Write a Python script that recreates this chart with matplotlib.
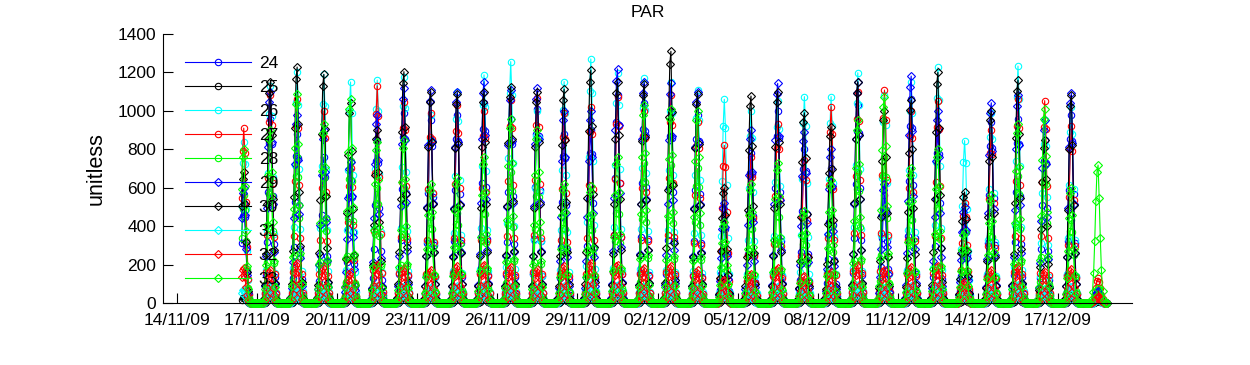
import numpy as np
import pandas as pd
import matplotlib as mpl
mpl.use('Agg')
import matplotlib.pyplot as plt
from matplotlib import dates

# hourly logging, first reading 16/11 10:00, last 18/12 20:00
START = '2009-11-16 10:00'
END = '2009-12-18 20:00'
DAY0 = '2009-11-16'

# daily maximum of each sensor (one value per day, 16/11 .. 18/12)
PEAK_24 = [520, 960, 880, 760, 640, 850, 990, 950, 980, 1040, 960, 1010, 880, 900, 1080, 1040, 1000,
           980, 450, 780, 1000, 800, 700, 1030, 560, 1060, 900, 430, 940, 960, 850, 980, 40]
PEAK_25 = [30, 45, 40, 42, 38, 35, 44, 40, 38, 42, 45, 40, 38, 44, 46, 40, 42,
           40, 25, 36, 40, 34, 35, 44, 36, 42, 45, 22, 38, 44, 36, 40, 10]
PEAK_26 = [840, 1130, 1200, 1190, 1150, 1160, 1178, 980, 1100, 1187, 1256, 1000, 1152, 1270, 1198, 1169, 1150,
           1108, 1060, 1000, 1050, 1074, 1074, 1198, 1080, 1150, 1226, 845, 990, 1233, 950, 1020, 50]
PEAK_27 = [910, 1080, 1060, 1000, 700, 1130, 1048, 990, 1030, 1000, 1056, 1065, 990, 1020, 1073, 1000, 1080,
           940, 820, 760, 930, 745, 1022, 1100, 1108, 1000, 1050, 520, 900, 1060, 1053, 920, 130]
PEAK_28 = [560, 650, 760, 650, 740, 600, 600, 450, 470, 540, 680, 640, 450, 440, 540, 730, 720,
           700, 300, 450, 520, 350, 460, 680, 760, 500, 570, 270, 400, 660, 720, 430, 80]
PEAK_29 = [600, 1100, 980, 900, 735, 980, 1118, 1108, 1100, 1152, 1110, 1120, 1000, 1000, 1218, 1150, 1143,
           1100, 520, 900, 1143, 890, 800, 1150, 620, 1181, 1000, 500, 1042, 1080, 950, 1094, 60]
PEAK_30 = [680, 1150, 1228, 1190, 1040, 900, 1204, 1100, 1090, 1100, 1126, 1100, 1113, 1212, 1150, 1140, 1310,
           1090, 600, 1077, 1100, 990, 917, 1152, 1000, 1056, 1200, 578, 1000, 1160, 850, 1080, 40]
PEAK_31 = [70, 90, 85, 80, 75, 90, 85, 80, 90, 95, 85, 80, 90, 100, 95, 85, 90,
           80, 60, 75, 85, 70, 75, 95, 80, 90, 95, 55, 80, 95, 75, 85, 20]
PEAK_32 = [180, 170, 210, 190, 160, 200, 180, 170, 190, 200, 185, 175, 190, 210, 200, 180, 190,
           170, 120, 150, 180, 140, 160, 200, 170, 185, 195, 110, 170, 190, 160, 175, 40]
PEAK_33 = [800, 900, 1090, 930, 1060, 840, 848, 620, 650, 760, 960, 900, 620, 610, 760, 1030, 1010,
           1000, 420, 620, 730, 480, 640, 950, 1074, 700, 800, 370, 560, 930, 1009, 600, 718]

# fraction of the daily maximum for each hour 0..23 (shape of the spikes)
PROFILE_CIRCLE = [0, 0, 0, 0, 0, 0, 0.01, 0.05, 0.15, 0.33, 0.6, 0.87,
                  1.0, 0.86, 0.58, 0.32, 0.14, 0.05, 0.01, 0, 0, 0, 0, 0]
PROFILE_DIAMOND = [0, 0, 0, 0, 0, 0, 0.02, 0.08, 0.22, 0.45, 0.74, 0.95,
                   1.0, 0.76, 0.47, 0.24, 0.09, 0.02, 0, 0, 0, 0, 0, 0]

SENSORS = ['24', '25', '26', '27', '28', '29', '30', '31', '32', '33']
PEAKS = [PEAK_24, PEAK_25, PEAK_26, PEAK_27, PEAK_28, PEAK_29, PEAK_30, PEAK_31, PEAK_32, PEAK_33]
COLORS = ['#0000ff', '#000000', '#00ffff', '#ff0000', '#00ff00'] * 2
MARKERS = ['o'] * 5 + ['D'] * 5


def gen_graph(outfile):
    times = pd.date_range(START, END, freq='h')
    day_idx = (times.normalize() - pd.Timestamp(DAY0)).days.values
    hours = times.hour.values

    plt.rcParams['font.family'] = ['Liberation Sans', 'DejaVu Sans']
    fig = plt.figure(figsize=(12.5, 3.65), dpi=100)
    ax = fig.add_axes([0.1304, 0.1699, 0.7752, 0.737])

    for i, name in enumerate(SENSORS):
        profile = PROFILE_CIRCLE if MARKERS[i] == 'o' else PROFILE_DIAMOND
        vals = np.array(PEAKS[i])[day_idx] * np.array(profile)[hours]
        ms = 4.6 if MARKERS[i] == 'o' else 3.6
        # matlab style: markers are not clipped at the axis
        ax.plot(times, vals, color=COLORS[i], lw=0.8, marker=MARKERS[i], ms=ms,
                mfc='none', mec=COLORS[i], mew=0.8, label=name, clip_on=False)

    ax.set_ylim(0, 1400)
    ax.set_yticks(np.arange(0, 1401, 200))
    ax.set_xlim(dates.date2num(pd.Timestamp('2009-11-13 11:25')),
                dates.date2num(pd.Timestamp('2009-12-19 18:30')))
    ax.set_xticks(pd.date_range('2009-11-14', '2009-12-17', freq='3D'))
    ax.xaxis.set_major_formatter(dates.DateFormatter('%d/%m/%y'))

    for s in ['top', 'right']:
        ax.spines[s].set_visible(False)
    ax.tick_params(direction='in', length=7.2, width=0.8, labelsize=12.5, pad=5)
    ax.tick_params(axis='x', pad=7)

    ax.set_title('PAR', fontsize=12.5, pad=12)
    ax.set_ylabel('unitless', fontsize=15.5, labelpad=8)

    leg = ax.legend(loc='upper left', bbox_to_anchor=(0.0227, 0.92), frameon=False,
                    fontsize=12.5, handlelength=3.8, handletextpad=0.45, labelspacing=0.51,
                    borderpad=0, borderaxespad=0)
    leg.set_zorder(5)

    fig.savefig(outfile, dpi=100)


if __name__ == '__main__':
    gen_graph('out.png')
